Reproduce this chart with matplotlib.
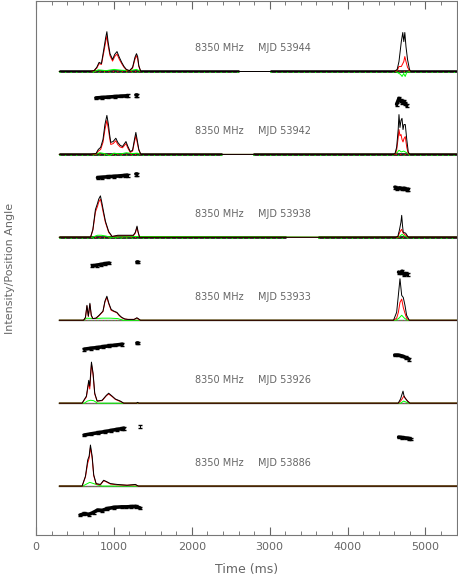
import numpy as np
import matplotlib
matplotlib.use('Agg')
import matplotlib.pyplot as plt
from matplotlib.ticker import MultipleLocator


# Observations, top to bottom
MJDS = [53944, 53942, 53938, 53933, 53926, 53886]
FREQ_LABEL = '8350 MHz'

# Off-pulse stretches with no data (straight line) per panel, ms
GAPS = [(2600, 3010), (2390, 2790), (3205, 3615), None, None, None]

# Total intensity (I) and linear (L), arbitrary units (100 = brightest peak)
t1 = [300, 700, 745, 780, 810, 840, 870, 895, 910, 925, 950, 983, 1010, 1040, 1070, 1100, 1130, 1160, 1200, 1240,
      1270, 1290, 1305, 1320, 1345, 4600, 4637, 4660, 4690, 4709, 4722, 4735, 4750, 4770, 4795, 4810, 5450]
I1 = [0, 0, 2, 10, 22, 19, 53, 82, 96, 72, 43, 29, 41, 48, 34, 22, 12, 5, 2, 10,
      34, 43, 36, 14, 0, 0, 5, 24, 72, 94, 72, 94, 60, 29, 5, 0, 0]
L1 = [0, 0, 2, 8, 19, 17, 46, 72, 86, 63, 38, 25, 36, 42, 29, 19, 10, 4, 2, 8,
      29, 38, 31, 12, 0, 0, 2, 12, 12, 19, 24, 36, 24, 10, 2, 0, 0]
tv1 = [300, 750, 800, 900, 1000, 1100, 1200, 1290, 1350, 4620, 4680, 4700, 4720, 4740, 4760, 4800, 5450]
V1 = [0, 0, 4, 2, 5, 3, 2, 5, 0, 0, -7, -12, -5, -12, -2, 0, 0]

t2 = [300, 700, 770, 800, 830, 860, 885, 910, 930, 945, 960, 990, 1025, 1050, 1080, 1110, 1155, 1180, 1210, 1240,
      1262, 1282, 1300, 1320, 1346, 4590, 4609, 4630, 4650, 4660, 4673, 4686, 4699, 4712, 4724, 4741, 4760, 4780,
      4800, 5450]
I2 = [0, 0, 2, 12, 17, 36, 72, 94, 72, 48, 29, 31, 39, 29, 22, 19, 31, 19, 7, 10,
      34, 53, 34, 12, 0, 0, 2, 17, 60, 96, 65, 82, 87, 60, 72, 72, 36, 5, 0, 0]
L2 = [0, 0, 1, 8, 12, 29, 60, 82, 60, 40, 24, 26, 33, 24, 18, 16, 26, 15, 5, 8,
      28, 45, 28, 10, 0, 0, 0, 10, 40, 60, 45, 48, 36, 30, 38, 43, 17, 2, 0, 0]
tv2 = [300, 760, 820, 880, 940, 1000, 1080, 1160, 1240, 1300, 1350, 4600, 4640, 4660, 4690, 4720, 4750, 4790, 5450]
V2 = [0, 0, 4, 2, -3, 3, 1, 4, 2, 3, 0, 0, 5, 10, 6, 8, 5, 0, 0]

t3 = [300, 700, 730, 763, 790, 805, 827, 845, 862, 891, 933, 977, 1050, 1150, 1250, 1275, 1297, 1310, 1330,
      4620, 4645, 4665, 4685, 4695, 4705, 4715, 4746, 4780, 5450]
I3 = [0, 0, 19, 67, 82, 92, 100, 84, 67, 39, 14, 2, 5, 5, 5, 12, 27, 14, 0,
      0, 2, 17, 36, 53, 29, 12, 10, 0, 0]
L3 = [0, 0, 17, 61, 75, 85, 92, 77, 61, 36, 12, 2, 4, 4, 4, 10, 24, 12, 0,
      0, 0, 10, 17, 19, 14, 10, 5, 0, 0]
tv3 = [300, 720, 790, 840, 900, 960, 1300, 4650, 4700, 4740, 4770, 5450]
V3 = [0, 0, 5, 5, 3, 0, 2, 0, 7, 2, 0, 0]

t4 = [300, 611, 635, 654, 672, 692, 710, 730, 770, 810, 860, 885, 910, 935, 965, 1000, 1038, 1070, 1100, 1140,
      1180, 1260, 1295, 1320, 1340, 4590, 4630, 4652, 4673, 4695, 4715, 4737, 4758, 4792, 5450]
I4 = [0, 0, 7, 36, 10, 41, 12, 4, 5, 12, 22, 46, 58, 41, 26, 22, 19, 12, 7, 3,
      2, 2, 6, 3, 0, 0, 19, 60, 100, 60, 55, 36, 12, 0, 0]
L4 = [0, 0, 6, 34, 9, 38, 11, 4, 5, 11, 21, 44, 55, 39, 24, 21, 18, 11, 6, 3,
      2, 2, 5, 2, 0, 0, 5, 19, 43, 51, 31, 17, 5, 0, 0]
tv4 = [300, 610, 650, 750, 850, 950, 1050, 1120, 4620, 4660, 4695, 4730, 4770, 5450]
V4 = [0, 0, 5, 4, 5, 5, 4, 0, 0, 5, 12, 5, 0, 0]

t5 = [300, 592, 647, 677, 690, 712, 733, 754, 785, 849, 904, 933, 977, 1019, 1083, 1126, 1290, 1305, 1320,
      4650, 4680, 4700, 4712, 4725, 4740, 4770, 4800, 5450]
I5 = [0, 0, 17, 55, 41, 99, 72, 24, 5, 7, 19, 24, 17, 10, 5, 0, 0, 2, 0,
      0, 10, 22, 29, 17, 12, 5, 0, 0]
L5 = [0, 0, 15, 50, 34, 94, 68, 22, 5, 6, 18, 22, 16, 9, 4, 0, 0, 1, 0,
      0, 5, 10, 14, 17, 12, 5, 0, 0]
tv5 = [300, 620, 660, 700, 740, 790, 4680, 4720, 4760, 4790, 5450]
V5 = [0, 0, 5, 7, 6, 0, 0, 5, 2, 0, 0]

t6 = [300, 592, 635, 664, 682, 699, 721, 741, 772, 827, 869, 904, 955, 1041, 1169, 1276, 1314, 5450]
I6 = [0, 0, 24, 63, 72, 99, 72, 27, 6, 4, 14, 11, 6, 4, 2, 4, 0, 0]
L6 = [0, 0, 22, 55, 67, 93, 67, 25, 5, 3, 13, 10, 5, 3, 2, 3, 0, 0]
tv6 = [300, 600, 650, 690, 740, 800, 850, 5450]
V6 = [0, 0, 5, 9, 6, 2, 0, 0]

# Position angle (deg)
pa_t1 = [770, 850, 930, 1010, 1090, 1150, 1175, 1285, 1300, 4630, 4660, 4680, 4700, 4720, 4740, 4760]
pa1 = [-7, -5, -3, -1, 1, 2, 3, 4, 4, -35, -9, -18, -26, -22, -31, -40]
pa_t2 = [790, 850, 920, 1000, 1080, 1140, 1175, 1285, 1300, 4610, 4640, 4670, 4700, 4730, 4760, 4780]
pa2 = [7, 9, 11, 13, 15, 17, 18, 22, 22, -35, -40, -38, -42, -40, -44, -44]
pa_t3 = [725, 780, 830, 880, 940, 1295, 1310, 4655, 4680, 4700, 4720, 4745, 4770]
pa3 = [-16, -13, -10, -7, -4, 1, 1, -44, -48, -40, -53, -50, -53]
pa_t4 = [620, 700, 780, 860, 940, 1020, 1110, 1295, 1310, 4606, 4650, 4700, 4750, 4790]
pa4 = [-18, -14, -11, -7, -3, 0, 4, 9, 9, -44, -44, -48, -55, -62]
pa_t5 = [620, 700, 790, 880, 960, 1040, 1100, 1130, 1337, 4656, 4700, 4750, 4790, 4810]
pa5 = [-31, -26, -21, -16, -11, -6, -3, -1, 6, -40, -42, -44, -46, -48]
pa_t6 = [568, 620, 680, 740, 790, 850, 910, 1003, 1100, 1160, 1218, 1280, 1337]
pa6 = [-18, -12, -15, -6, 4, 2, 10, 16, 18, 18, 19, 20, 13]

profiles = [(t1, I1, L1, tv1, V1, pa_t1, pa1),
            (t2, I2, L2, tv2, V2, pa_t2, pa2),
            (t3, I3, L3, tv3, V3, pa_t3, pa3),
            (t4, I4, L4, tv4, V4, pa_t4, pa4),
            (t5, I5, L5, tv5, V5, pa_t5, pa5),
            (t6, I6, L6, tv6, V6, pa_t6, pa6)]

AMP = 0.005        # y units per intensity unit
PA_SCALE = 0.00274  # y units per degree
PA_OFF = -0.30
BASE0 = 0.59
TXT = '#666666'

fig = plt.figure(figsize=(4.58, 5.77), dpi=100)
ax = fig.add_axes([36 / 458, 42 / 577, 421 / 458, 534 / 577])

for k, (t, I, L, tv, V, pt, pa) in enumerate(profiles):
    base = BASE0 + (len(MJDS) - 1 - k)
    t = np.array(t)

    # baseline noise band
    if GAPS[k] is not None:
        segs = [(300, GAPS[k][0]), (GAPS[k][1], 5450)]
        for a, b in segs:
            ax.plot([a, b], [base, base], color='#222222', lw=2.0, solid_capstyle='butt', zorder=1)
            ax.plot([a, b], [base + 0.008, base + 0.008], color='red', lw=0.8, dashes=(1, 3), zorder=1)
            ax.plot([a, b], [base - 0.006, base - 0.006], color='lime', lw=0.8, dashes=(1, 4), zorder=1)
    else:
        ax.plot([300, 5450], [base, base], color='#707070', lw=1.0, zorder=1)
        ax.plot([300, 5450], [base, base], color='red', lw=0.6, dashes=(1, 3), alpha=0.5, zorder=1)
        ax.plot([300, 5450], [base, base], color='lime', lw=0.6, dashes=(1, 4), alpha=0.5, zorder=1)

    ax.plot(tv, base + np.array(V) * AMP, color='lime', lw=0.7, zorder=2)
    ax.plot(t, base + np.array(L) * AMP, color='red', lw=0.7, zorder=3)
    ax.plot(t, base + np.array(I) * AMP, color='k', lw=0.7, zorder=4)

    # position angle, one connected piece per component
    pt = np.array(pt)
    pay = base + PA_OFF + np.array(pa) * PA_SCALE
    cuts = np.where(np.diff(pt) > 100)[0] + 1
    for seg_t, seg_y in zip(np.split(pt, cuts), np.split(pay, cuts)):
        ax.plot(seg_t, seg_y, color='k', lw=2.6, solid_capstyle='round', zorder=5)
        ax.errorbar(seg_t, seg_y, yerr=6 * PA_SCALE, fmt='none', ecolor='k',
                    elinewidth=0.7, capsize=1.5, zorder=5)

    ax.text(2045, base + 0.28, FREQ_LABEL, fontsize=7, color=TXT, va='center')
    ax.text(2853, base + 0.28, 'MJD %d' % MJDS[k], fontsize=7, color=TXT, va='center')

ax.set_xlim(0, 5405)
ax.set_ylim(0, 6.44)
ax.set_yticks([])
ax.xaxis.set_major_locator(MultipleLocator(1000))
ax.xaxis.set_minor_locator(MultipleLocator(200))
ax.tick_params(axis='x', which='both', direction='in', top=True, bottom=True,
               colors='#666666', labelsize=8, pad=5)
ax.tick_params(axis='x', which='major', length=6)
ax.tick_params(axis='x', which='minor', length=3)
for s in ax.spines.values():
    s.set_color('#777777')
ax.set_xlabel('Time (ms)', fontsize=9, color=TXT, labelpad=8)
fig.text(10 / 458, 1 - 268 / 577, 'Intensity/Position Angle', rotation=90,
         va='center', ha='center', fontsize=8, color=TXT)

fig.savefig('out.png', dpi=100)
